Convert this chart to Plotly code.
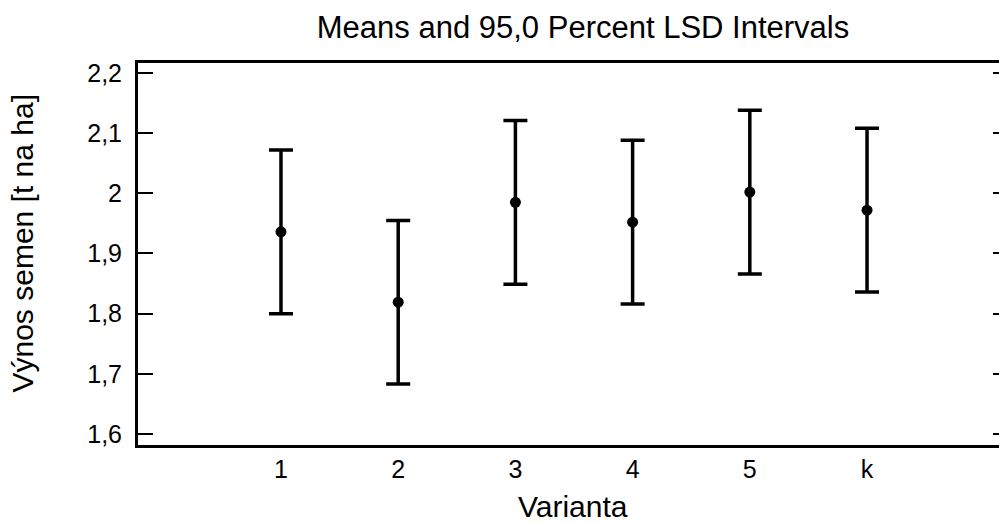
import plotly.graph_objects as go

categories = ["1", "2", "3", "4", "5", "k"]
means = [1.936, 1.819, 1.985, 1.952, 2.002, 1.972]
lsd_half = [0.136, 0.136, 0.136, 0.136, 0.136, 0.136]
y_ticks = [1.6, 1.7, 1.8, 1.9, 2.0, 2.1, 2.2]
y_tick_labels = ["1,6", "1,7", "1,8", "1,9", "2", "2,1", "2,2"]

title_text = "Means and 95,0 Percent LSD Intervals"
x_title = "Varianta"
y_title = "Výnos semen [t na ha]"

FONT = "Liberation Sans, Arial, sans-serif"
yr = [1.5817, 2.2166]

fig = go.Figure()
fig.add_trace(go.Scatter(
    x=categories, y=means, mode="markers",
    marker=dict(color="black", size=11),
    error_y=dict(type="data", array=lsd_half, visible=True,
                 color="black", thickness=3.5, width=12),
    showlegend=False, hoverinfo="x+y",
))
# invisible trace to carry the right-side tick axis
fig.add_trace(go.Scatter(
    x=categories, y=means, mode="markers", yaxis="y2",
    marker=dict(opacity=0), showlegend=False, hoverinfo="skip",
))

fig.update_layout(
    width=999, height=523,
    margin=dict(l=138, r=0, t=63, b=78),
    paper_bgcolor="white", plot_bgcolor="white",
    font=dict(family=FONT, color="black"),
    title=dict(text=title_text, x=0.5836, xref="container", xanchor="center",
               y=0.9484, yref="container", yanchor="middle",
               font=dict(size=31, family=FONT, color="black")),
    xaxis=dict(
        type="category", range=[-1.22, 6.126],
        showline=True, linecolor="black", linewidth=3, mirror=True,
        ticks="", showgrid=False, zeroline=False,
        tickfont=dict(size=25, family=FONT, color="black"),
        ticklabelstandoff=0,
    ),
    yaxis=dict(
        range=yr, tickvals=y_ticks, ticktext=y_tick_labels,
        showline=True, linecolor="black", linewidth=3,
        ticks="inside", ticklen=15, tickwidth=2, tickcolor="black",
        showgrid=False, zeroline=False,
        tickfont=dict(size=25, family=FONT, color="black"),
        ticklabelstandoff=8,
    ),
    yaxis2=dict(
        range=yr, tickvals=y_ticks, overlaying="y", side="right",
        showline=False, ticks="inside", ticklen=6, tickwidth=2, tickcolor="black",
        showticklabels=False, showgrid=False, zeroline=False,
    ),
    annotations=[
        dict(text=x_title, xref="paper", yref="paper", x=0.505, y=-0.16,
             xanchor="center", yanchor="middle", showarrow=False,
             font=dict(size=30, family=FONT, color="black")),
        dict(text=y_title, xref="paper", yref="paper", x=-0.1336, y=0.530,
             xanchor="center", yanchor="middle", showarrow=False, textangle=-90,
             font=dict(size=30, family=FONT, color="black")),
    ],
)

fig.write_html(
    "out.html",
    config={"displayModeBar": False},
    post_script="document.body.style.margin='0';document.body.style.overflow='hidden';",
)
